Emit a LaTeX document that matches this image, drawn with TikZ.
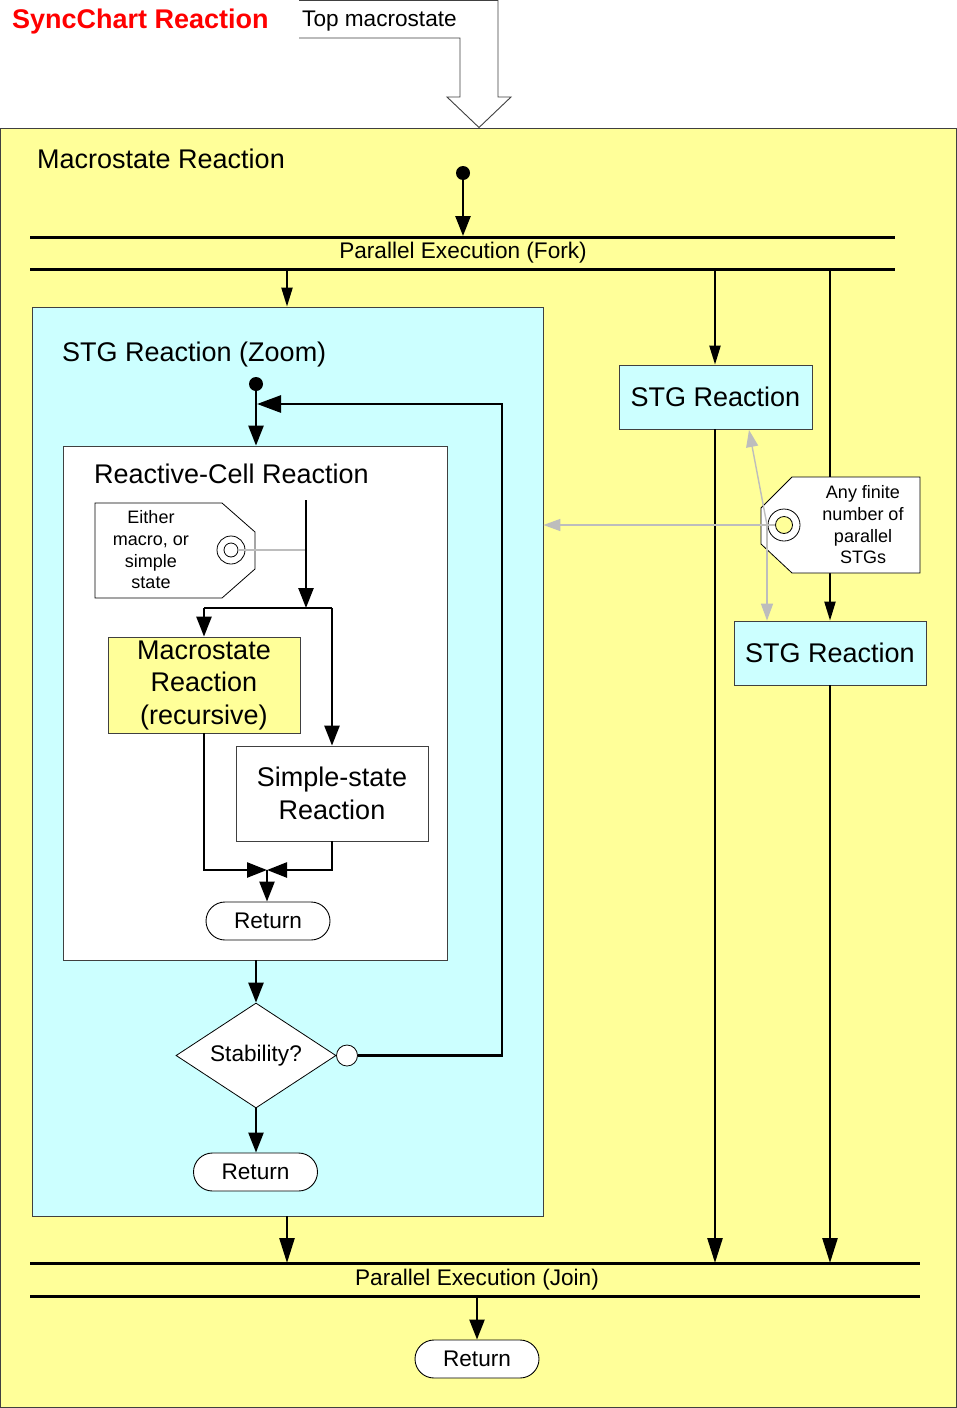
\documentclass[tikz,border=0pt]{standalone}
\usepackage{fontspec}
\setmainfont{Liberation Sans}
\usetikzlibrary{arrows.meta,shapes.geometric}
\definecolor{ylw}{HTML}{FFFF99}
\definecolor{cyn}{HTML}{CCFFFF}
\definecolor{tagline}{HTML}{BDBDBD}
\definecolor{frame}{HTML}{404040}
\begin{document}
\begin{tikzpicture}[x=1pt,y=-1pt,
  big/.style={font=\fontsize{27}{32.5}\selectfont},
  mid/.style={font=\fontsize{22.6}{26}\selectfont},
  small/.style={font=\fontsize{18}{21.7}\selectfont},
  lbl/.style={inner sep=0pt},
  box/.style={draw=frame, line width=0.8pt, inner sep=0pt, align=center},
  retbox/.style={draw=black, line width=0.9pt, rounded corners=19pt, minimum width=124pt, minimum height=38pt, inner sep=0pt, mid, fill=white},
  arr/.style={line width=2.5pt, -{Triangle[length=20pt,width=15pt]}},
  longarr/.style={line width=2.6pt, -{Triangle[length=25pt,width=15pt]}},
  forkarr/.style={line width=2.2pt, -{Triangle[length=19pt,width=11pt]}},
  plain/.style={line width=1.8pt},
  barline/.style={line width=3pt},
  garr/.style={draw=tagline, line width=1.4pt, -{Triangle[length=17pt,width=12pt]}, fill=tagline},
  tagshape/.style={draw=black, line width=0.8pt, fill=white},
  dotnode/.style={circle, fill=black, inner sep=0pt, minimum size=14pt},
]
\useasboundingbox (0,0) rectangle (957,1408);
\fill[white] (0,0) rectangle (957,1408);

% title and top macrostate block arrow
\node[lbl, anchor=base west, text=red, font=\bfseries\fontsize{27}{32}\selectfont] (title) at (12,28) {SyncChart Reaction};
\filldraw[fill=white, draw=frame, line width=0.9pt] (299,38) -- (460,38) -- (460,97) -- (447,97) -- (479,127.5) -- (511,97) -- (498,97) -- (498,0.5) -- (299,0.5);
\node[lbl, anchor=base west, mid] (topm) at (302,26) {Top macrostate};

% main yellow area
\filldraw[fill=ylw, draw=frame, line width=0.9pt] (0.5,128) rectangle (956.5,1407.5);
\node[lbl, anchor=base west, big] (mrtitle) at (37,168) {Macrostate Reaction};

% initial dot and fork
\node[dotnode] (init1) at (463,173) {};
\coordinate (f1l) at (30,237); \coordinate (f1r) at (895,237);
\coordinate (f2l) at (30,269); \coordinate (f2r) at (895,269);
\draw[barline] (f1l) -- (f1r);
\draw[barline] (f2l) -- (f2r);
\node[mid] (forktxt) at (463,253) {Parallel Execution (Fork)};
\coordinate (forkin) at (463,236);
\draw[arr] (init1.center) -- (forkin);

% join
\coordinate (j1l) at (30,1263); \coordinate (j1r) at (920,1263);
\coordinate (j2l) at (30,1296); \coordinate (j2r) at (920,1296);
\draw[barline] (j1l) -- (j1r);
\draw[barline] (j2l) -- (j2r);
\node[mid] (jointxt) at (477,1280) {Parallel Execution (Join)};

% zoom box
\node[box, fill=cyn, minimum width=511pt, minimum height=909pt] (zoom) at (287.5,761.5) {};
\node[lbl, anchor=base west, big] (zoomtitle) at (62,361) {STG Reaction (Zoom)};

% right STG boxes
\node[box, fill=cyn, minimum width=193pt, minimum height=64pt, big] (stg1) at (715.5,397) {STG Reaction};
\node[box, fill=cyn, minimum width=192pt, minimum height=64pt, big] (stg2) at (830,653) {STG Reaction};

% fork arrows
\coordinate (fa) at (287,269);
\coordinate (fb) at (715,269);
\coordinate (fc) at (830,269);
\draw[forkarr] (fa) -- (fa |- zoom.north);
\draw[forkarr] (fb) -- (fb |- stg1.north);
\draw[forkarr] (fc) -- (fc |- stg2.north);

% join arrows
\coordinate (za) at (287,1216);
\draw[longarr] (za) -- (za |- j1l);
\draw[longarr] (stg1.south -| fb) -- (fb |- j1l);
\draw[longarr] (stg2.south -| fc) -- (fc |- j1l);

% final return
\node[retbox] (ret3) at (477,1359) {Return};
\coordinate (jo) at (477,1296);
\draw[arr] (jo) -- (ret3.north);

% right tag
\filldraw[tagshape] (792,477) -- (920,477) -- (920,573) -- (792,573) -- (761,544) -- (761,508) -- cycle;
\node[small, align=center] (tagtxtA) at (863,525) {Any finite\\number of\\parallel\\STGs};
\node[circle, draw=black, line width=0.8pt, fill=white, minimum size=32pt, inner sep=0pt] (ringA) at (784,525) {};
\node[circle, draw=black, line width=0.8pt, fill=ylw, minimum size=17pt, inner sep=0pt] (holeA) at (784,525) {};
\coordinate (hubA) at (767,525);
\coordinate (upA) at (749,430);
\draw[garr] (holeA.west) -- (zoom.east |- holeA);
\draw[garr] (hubA) -- (upA);
\draw[garr] (hubA) -- (hubA |- stg2.north);

% STG zoom content
\node[dotnode] (init2) at (256,384) {};
\node[box, fill=white, minimum width=384pt, minimum height=514pt] (rc) at (255,703) {};
\node[lbl, anchor=base west, big] (rctitle) at (94,483) {Reactive-Cell Reaction};
\draw[arr] (init2.center) -- (init2.center |- rc.north);

% either tag
\filldraw[tagshape] (95,503) -- (222,503) -- (255,532) -- (255,569) -- (222,598) -- (95,598) -- cycle;
\node[small, align=center] (tagtxtB) at (151,550) {Either\\macro, or\\simple\\state};
\node[circle, draw=black, line width=0.8pt, fill=white, minimum size=28pt, inner sep=0pt] (ringB) at (231,550) {};
\node[circle, draw=black, line width=0.8pt, fill=white, minimum size=14pt, inner sep=0pt] (holeB) at (231,550) {};

% inner flow
\node[box, fill=ylw, minimum width=192pt, minimum height=96pt, big] (mac) at (204,685) {Macrostate\\Reaction\\(recursive)};
\node[box, fill=white, minimum width=192pt, minimum height=95pt, big] (simp) at (332,793.5) {Simple-state\\Reaction};
\coordinate (rcin) at (306,500);
\coordinate (split) at (306,608);
\coordinate (splitL) at (204,608);
\coordinate (splitR) at (332,608);
\draw[tagline, line width=1.2pt] (holeB.east) -- (holeB -| rcin);
\draw[arr] (rcin) -- (split);
\draw[plain] (splitL) -- (splitR);
\draw[arr] (splitL) -- (mac.north);
\draw[arr] (splitR) -- (simp.north);
\coordinate (merge) at (267,870);
\draw[arr] (mac.south) |- (merge);
\draw[arr] (simp.south) |- (merge);
\node[retbox] (ret1) at (268,921) {Return};
\draw[arr] (merge) -- (merge |- ret1.north);

% stability
\node[draw=black, line width=0.8pt, fill=white, diamond, shape aspect=1.52, minimum width=160pt, minimum height=105pt, inner sep=0pt, mid] (stab) at (256,1055.5) {Stability?};
\node[circle, draw=black, line width=0.8pt, fill=white, minimum size=21pt, inner sep=0pt] (neg) at (347,1055.5) {};
\draw[arr] (rc.south -| init2) -- (stab.north);
\node[retbox] (ret2) at (255.5,1172) {Return};
\draw[arr] (stab.south) -- (stab.south |- ret2.north);
\coordinate (loopA) at (502,1055.5);
\coordinate (loopB) at (502,404);
\coordinate (loopC) at (257,404);
\draw[line width=2.8pt, -{Triangle[length=24pt,width=17pt]}] (neg.east) -- (loopA) -- (loopB) -- (loopC);
\end{tikzpicture}
\end{document}
